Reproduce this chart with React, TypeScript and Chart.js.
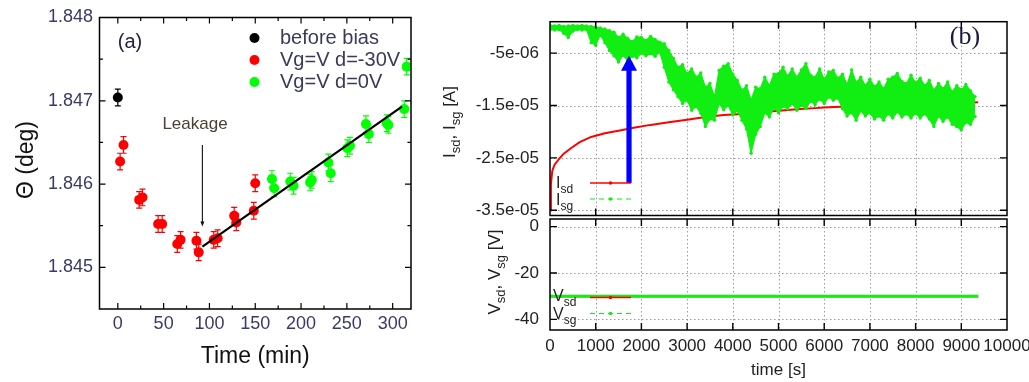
import React, { useEffect, useRef } from 'react';
import { Chart, registerables } from 'chart.js';
Chart.register(...registerables);

const W = 1029;
const H = 382;
const FONT = '"Liberation Sans", Arial, sans-serif';

// ---------------- Panel (a) data ----------------
const beforeTime = [0];
const beforeTheta = [1.84704];
const beforeErr = [0.0001];

const biasTime = [2.5, 6.2, 23.3, 26.9, 44, 48.4, 64.9, 68.5, 85.8, 88.3, 104.7, 109, 127, 129.3, 148.4, 150];
const biasTheta = [1.84627, 1.84647, 1.84581, 1.84584, 1.84552, 1.84552, 1.84528, 1.84533, 1.84532, 1.84518, 1.84533, 1.84535, 1.84562, 1.84554, 1.84568, 1.84601];
const biasErr = [0.0001, 0.0001, 0.0001, 0.0001, 0.0001, 0.0001, 0.0001, 0.0001, 0.0001, 0.0001, 0.0001, 0.0001, 0.0001, 0.0001, 0.0001, 0.0001];

const zeroTime = [168.2, 170.7, 188.2, 191.8, 209.9, 211.7, 229.8, 232.4, 250.5, 253.4, 270.8, 274, 293.5, 295.3, 312.6, 315.3];
const zeroTheta = [1.84606, 1.84595, 1.84603, 1.84598, 1.84602, 1.84605, 1.84626, 1.84613, 1.84643, 1.84646, 1.84672, 1.8466, 1.84673, 1.84671, 1.8469, 1.84741];
const zeroErr = [0.0001, 0.0001, 0.0001, 0.0001, 0.0001, 0.0001, 0.0001, 0.0001, 0.0001, 0.0001, 0.0001, 0.0001, 0.0001, 0.0001, 0.0001, 0.0001];

const fitTime = [92.3, 310.1];
const fitTheta = [1.84525, 1.84693];

const leakTime = 92.3;
const leakFrom = 1.84647;
const leakTo = 1.84549;

const aXTicks = [0, 50, 100, 150, 200, 250, 300];
const aXMinor = [25, 75, 125, 175, 225, 275];
const aYTicks = [1.845, 1.846, 1.847, 1.848];
const aYMinor = [1.8455, 1.8465, 1.8475];
const aLegend = ['before bias', 'Vg=V d=-30V', 'Vg=V d=0V'];
const aColors = ['#000000', '#ff0000', '#00ff00'];

// ---------------- Panel (b) data (current in units of 1e-6 A) ----------------
const isdTime = [0, 20, 50, 100, 200, 300, 450, 650, 900, 1200, 1500, 1800, 2200, 2600, 3000, 3400, 3800, 4200, 4600, 5000, 5400, 5800, 6200, 6600, 7000, 7400, 7800, 8200, 8600, 9000, 9370];
const isdCurrent = [-35, -30, -27.5, -26.3, -25.2, -24.2, -23.2, -22.0, -21.0, -20.3, -19.8, -19.3, -18.7, -18.2, -17.7, -17.2, -16.8, -16.6, -16.3, -16.0, -15.7, -15.5, -15.3, -15.2, -15.1, -15.0, -14.8, -14.7, -14.6, -14.5, -14.4];

// noisy I_sg trace: upper and lower edge of the noise band, sampled every 100 s
const isgStep = 100;
const isgUpper = [
  0.3, 0.2, 0.3, 0.1, 0.2, 0.3, 0.2, 0.3, 0.2, 0.1,
  0.0, -0.2, -0.4, -0.7, -1.0, -2.0, -1.4, -2.2, -2.8, -1.9,
  -2.0, -2.6, -1.8, -2.4, -2.9, -3.2, -4.5, -6.0, -7.7, -7.2,
  -8.9, -8.0, -9.6, -8.8, -11.5, -10.8, -13.3, -8.3, -7.5, -7.0,
  -9.0, -10.2, -12.1, -11.2, -14.0, -11.5, -11.8, -9.6, -11.2, -9.0,
  -8.9, -7.7, -9.4, -8.0, -9.6, -8.2, -7.0, -9.2, -9.6, -8.0,
  -10.0, -8.6, -8.3, -9.8, -9.0, -11.0, -8.2, -10.6, -9.6, -11.2,
  -10.0, -11.4, -10.5, -11.8, -10.0, -9.6, -8.9, -10.4, -10.8, -9.2,
  -10.6, -9.8, -11.2, -10.2, -12.1, -10.8, -11.8, -10.5, -12.4, -11.2,
  -12.0, -11.0, -12.2, -13.3,
];
const isgLower = [
  -0.5, -0.6, -0.5, -1.2, -2.0, -0.8, -0.5, -0.6, -0.5, -3.0,
  -3.5, -1.5, -3.0, -4.5, -5.5, -6.7, -5.4, -6.5, -5.6, -5.9,
  -5.0, -5.5, -5.1, -5.6, -4.8, -7.7, -10.5, -12.0, -13.3, -14.6,
  -14.0, -15.9, -15.2, -16.5, -19.0, -17.6, -17.8, -14.6, -15.8, -15.0,
  -16.8, -16.0, -17.8, -19.5, -24.1, -20.5, -19.0, -16.4, -17.2, -15.5,
  -16.4, -15.2, -15.6, -14.6, -15.9, -15.0, -15.6, -14.2, -14.8, -13.8,
  -14.6, -13.4, -14.0, -13.6, -15.6, -17.0, -16.4, -17.8, -16.0, -17.0,
  -16.4, -17.6, -17.0, -17.8, -16.6, -17.4, -16.2, -17.2, -16.6, -17.4,
  -16.5, -17.4, -16.6, -17.6, -19.0, -17.0, -18.0, -17.2, -18.6, -19.0,
  -19.7, -18.2, -18.6, -17.1,
];

const arrowTime = 1729;
const arrowFrom = -29.8;
const arrowTo = -5.5;

const vTime = [0, 9370];
const vsd = [-30, -30];
const vsg = [-30, -30];

const bXTicks = [0, 1000, 2000, 3000, 4000, 5000, 6000, 7000, 8000, 9000, 10000];
const bXLabels = ['0', '1000', '2000', '3000', '4000', '5000', '6000', '7000', '8000', '9000', '10000'];
const bYTicks = [-5, -15, -25, -35];
const bYLabels = ['-5e-06', '-1.5e-05', '-2.5e-05', '-3.5e-05'];
const cYTicks = [0, -20, -40];
const cYLabels = ['0', '-20', '-40'];

// ---------------- helpers ----------------
const pts = (xs: number[], ys: number[]) => xs.map((x, i) => ({ x, y: ys[i] }));

function baseOptions(area: any, x: any, y: any) {
  return {
    responsive: false,
    maintainAspectRatio: false,
    animation: false,
    devicePixelRatio: 1,
    events: [],
    layout: { padding: { left: area.l, top: area.t, right: W - area.r, bottom: H - area.b } },
    plugins: { legend: { display: false }, tooltip: { enabled: false } },
    scales: {
      x: { type: 'linear', min: x[0], max: x[1], display: false },
      y: { type: 'linear', min: y[0], max: y[1], display: false },
    },
  };
}

function frame(ctx: any, ca: any, lw: number) {
  ctx.save();
  ctx.strokeStyle = '#000';
  ctx.lineWidth = lw;
  ctx.setLineDash([]);
  ctx.strokeRect(ca.left, ca.top, ca.right - ca.left, ca.bottom - ca.top);
  ctx.restore();
}

function inTicks(chart: any, xs: number[], ys: number[], len: number, lw: number) {
  const ctx = chart.ctx;
  const ca = chart.chartArea;
  const sx = chart.scales.x;
  const sy = chart.scales.y;
  ctx.save();
  ctx.strokeStyle = '#000';
  ctx.lineWidth = lw;
  ctx.setLineDash([]);
  ctx.beginPath();
  xs.forEach((v) => {
    const p = sx.getPixelForValue(v);
    ctx.moveTo(p, ca.bottom);
    ctx.lineTo(p, ca.bottom - len);
    ctx.moveTo(p, ca.top);
    ctx.lineTo(p, ca.top + len);
  });
  ys.forEach((v) => {
    const p = sy.getPixelForValue(v);
    ctx.moveTo(ca.left, p);
    ctx.lineTo(ca.left + len, p);
    ctx.moveTo(ca.right, p);
    ctx.lineTo(ca.right - len, p);
  });
  ctx.stroke();
  ctx.restore();
}

function dottedGrid(chart: any, xs: number[], ys: number[]) {
  const ctx = chart.ctx;
  const ca = chart.chartArea;
  const sx = chart.scales.x;
  const sy = chart.scales.y;
  ctx.save();
  ctx.strokeStyle = '#9a9a9a';
  ctx.lineWidth = 1;
  ctx.setLineDash([1.5, 2.5]);
  ctx.beginPath();
  xs.forEach((v) => {
    const p = Math.round(sx.getPixelForValue(v)) + 0.5;
    ctx.moveTo(p, ca.top);
    ctx.lineTo(p, ca.bottom);
  });
  ys.forEach((v) => {
    const p = Math.round(sy.getPixelForValue(v)) + 0.5;
    ctx.moveTo(ca.left, p);
    ctx.lineTo(ca.right, p);
  });
  ctx.stroke();
  ctx.restore();
}

function text(ctx: any, s: string, x: number, y: number, size: number, color: string, align = 'center', family = FONT, weight = 'normal') {
  ctx.save();
  ctx.font = `${weight} ${size}px ${family}`;
  ctx.fillStyle = color;
  ctx.textAlign = align;
  ctx.textBaseline = 'middle';
  ctx.fillText(s, x, y);
  ctx.restore();
}

// segments: [string, isSubscript]; y is the baseline
function subText(ctx: any, segs: [string, boolean][], x: number, y: number, size: number, color: string, align: string) {
  const big = `${size}px ${FONT}`;
  const small = `${Math.round(size * 0.75)}px ${FONT}`;
  let w = 0;
  segs.forEach(([t, s]) => {
    ctx.font = s ? small : big;
    w += ctx.measureText(t).width;
  });
  let cx = align === 'left' ? x : align === 'center' ? x - w / 2 : x - w;
  ctx.save();
  ctx.fillStyle = color;
  ctx.textAlign = 'left';
  ctx.textBaseline = 'alphabetic';
  segs.forEach(([t, s]) => {
    ctx.font = s ? small : big;
    ctx.fillText(t, cx, s ? y + size * 0.32 : y);
    cx += ctx.measureText(t).width;
  });
  ctx.restore();
}

function errorBars(chart: any, xs: number[], ys: number[], es: number[], color: string) {
  const ctx = chart.ctx;
  const sx = chart.scales.x;
  const sy = chart.scales.y;
  ctx.save();
  ctx.strokeStyle = color;
  ctx.lineWidth = 1.2;
  ctx.beginPath();
  xs.forEach((x, i) => {
    const px = sx.getPixelForValue(x);
    const top = sy.getPixelForValue(ys[i] + es[i]);
    const bot = sy.getPixelForValue(ys[i] - es[i]);
    ctx.moveTo(px, top);
    ctx.lineTo(px, bot);
    ctx.moveTo(px - 3, top);
    ctx.lineTo(px + 3, top);
    ctx.moveTo(px - 3, bot);
    ctx.lineTo(px + 3, bot);
  });
  ctx.stroke();
  ctx.restore();
}

function legendSample(ctx: any, x0: number, x1: number, y: number, color: string, dashed: boolean, lw: number) {
  ctx.save();
  ctx.strokeStyle = color;
  ctx.lineWidth = lw;
  ctx.setLineDash(dashed ? [5, 4] : []);
  ctx.beginPath();
  ctx.moveTo(x0, y);
  ctx.lineTo(x1, y);
  ctx.stroke();
  ctx.fillStyle = color;
  ctx.beginPath();
  ctx.arc((x0 + x1) / 2, y, 1.8, 0, Math.PI * 2);
  ctx.fill();
  ctx.restore();
}

// ---------------- Panel (a) ----------------
function makeA(canvas: any) {
  const pointStyle = (color: string) => ({ backgroundColor: color, borderWidth: 0, pointRadius: 5, pointHoverRadius: 5 });
  return new Chart(canvas, {
    type: 'scatter',
    data: {
      datasets: [
        { data: pts(fitTime, fitTheta), showLine: true, borderColor: '#000', borderWidth: 2.2, pointRadius: 0, order: 0 },
        { data: pts(beforeTime, beforeTheta), ...pointStyle(aColors[0]), order: 1 },
        { data: pts(biasTime, biasTheta), ...pointStyle(aColors[1]), order: 2 },
        { data: pts(zeroTime, zeroTheta), ...pointStyle(aColors[2]), order: 3 },
      ],
    } as any,
    options: baseOptions({ l: 99.5, t: 17.5, r: 411, b: 309 }, [-20, 320], [1.8445, 1.848]) as any,
    plugins: [
      {
        id: 'decorA',
        beforeDatasetsDraw(chart: any) {
          errorBars(chart, beforeTime, beforeTheta, beforeErr, aColors[0]);
          errorBars(chart, biasTime, biasTheta, biasErr, aColors[1]);
          errorBars(chart, zeroTime, zeroTheta, zeroErr, aColors[2]);
        },
        afterDraw(chart: any) {
          const ctx = chart.ctx;
          const ca = chart.chartArea;
          const sx = chart.scales.x;
          const sy = chart.scales.y;
          frame(ctx, ca, 1.5);
          inTicks(chart, aXTicks, aYTicks, 6, 1.2);
          inTicks(chart, aXMinor, aYMinor, 3.5, 1.2);
          const tickColor = '#3a3a66';
          aYTicks.forEach((v) => text(ctx, v.toFixed(3), 93, sy.getPixelForValue(v), 18, tickColor, 'right'));
          aXTicks.forEach((v) => text(ctx, String(v), sx.getPixelForValue(v), 324, 18, tickColor, 'center'));
          text(ctx, 'Time (min)', (ca.left + ca.right) / 2, 357, 23, '#111', 'center');
          ctx.save();
          ctx.translate(27, 160);
          ctx.rotate(-Math.PI / 2);
          text(ctx, 'Θ (deg)', 0, 0, 23, '#111', 'center');
          ctx.restore();
          text(ctx, '(a)', 130, 42, 20, '#222244', 'center');
          // legend
          aLegend.forEach((lab, i) => {
            const y = 38 + i * 22;
            ctx.save();
            ctx.fillStyle = aColors[i];
            ctx.beginPath();
            ctx.arc(254.5, y, 5, 0, Math.PI * 2);
            ctx.fill();
            ctx.restore();
            text(ctx, lab, 280, y, 20, '#3a3a5a', 'left');
          });
          // leakage annotation
          text(ctx, 'Leakage', 195, 124, 17, '#4a4232', 'center');
          const ax = sx.getPixelForValue(leakTime);
          const ay0 = sy.getPixelForValue(leakFrom);
          const ay1 = sy.getPixelForValue(leakTo);
          ctx.save();
          ctx.strokeStyle = '#111';
          ctx.lineWidth = 1.1;
          ctx.beginPath();
          ctx.moveTo(ax, ay0);
          ctx.lineTo(ax, ay1 - 3);
          ctx.stroke();
          ctx.fillStyle = '#111';
          ctx.beginPath();
          ctx.moveTo(ax, ay1);
          ctx.lineTo(ax - 2, ay1 - 5);
          ctx.lineTo(ax + 2, ay1 - 5);
          ctx.closePath();
          ctx.fill();
          ctx.restore();
        },
      },
    ],
  });
}

// ---------------- Panel (b) top: currents ----------------
function makeB(canvas: any) {
  const green = '#11ee11';
  const upper = isgUpper.map((v, i) => ({ x: i * isgStep, y: v }));
  const lower = isgLower.map((v, i) => ({ x: i * isgStep, y: v }));
  return new Chart(canvas, {
    type: 'scatter',
    data: {
      datasets: [
        { data: upper, showLine: true, borderColor: green, borderWidth: 1.2, pointRadius: 1.7, backgroundColor: green, pointBackgroundColor: green, pointBorderWidth: 0, fill: '+1', order: 0 },
        { data: lower, showLine: true, borderColor: green, borderWidth: 1.2, pointRadius: 1.7, backgroundColor: green, pointBackgroundColor: green, pointBorderWidth: 0, fill: false, order: 0 },
        { data: pts(isdTime, isdCurrent), showLine: true, borderColor: '#ff0000', borderWidth: 2, pointRadius: 0, order: 1 },
      ],
    } as any,
    options: baseOptions({ l: 550, t: 21.7, r: 1007, b: 215.5 }, [0, 10000], [-36, 1]) as any,
    plugins: [
      {
        id: 'decorB',
        beforeDatasetsDraw(chart: any) {
          dottedGrid(chart, bXTicks.slice(1, -1), bYTicks);
        },
        afterDatasetsDraw(chart: any) {
          const ctx = chart.ctx;
          const sx = chart.scales.x;
          const sy = chart.scales.y;
          const ax = sx.getPixelForValue(arrowTime);
          const y0 = sy.getPixelForValue(arrowFrom);
          const y1 = sy.getPixelForValue(arrowTo);
          ctx.save();
          ctx.fillStyle = '#0000ff';
          ctx.fillRect(ax - 2.6, y1 + 14, 5.2, y0 - y1 - 14);
          ctx.beginPath();
          ctx.moveTo(ax, y1);
          ctx.lineTo(ax - 8, y1 + 15);
          ctx.lineTo(ax + 8, y1 + 15);
          ctx.closePath();
          ctx.fill();
          ctx.restore();
        },
        afterDraw(chart: any) {
          const ctx = chart.ctx;
          const ca = chart.chartArea;
          const sy = chart.scales.y;
          frame(ctx, ca, 1.5);
          inTicks(chart, bXTicks.slice(1, -1), bYTicks, 7, 1.4);
          bYTicks.forEach((v, i) => text(ctx, bYLabels[i], 539, sy.getPixelForValue(v), 17, '#222', 'right'));
          ctx.save();
          ctx.translate(455, 122);
          ctx.rotate(-Math.PI / 2);
          subText(ctx, [['I', false], ['sd', true], [', I', false], ['sg', true], [' [A]', false]], 0, 0, 17, '#222', 'center');
          ctx.restore();
          // legend
          subText(ctx, [['I', false], ['sd', true]], 556, 188, 16, '#222', 'left');
          legendSample(ctx, 590, 631, 183, '#ff0000', false, 1.3);
          subText(ctx, [['I', false], ['sg', true]], 556, 205, 16, '#222', 'left');
          legendSample(ctx, 590, 631, 199, green, true, 1.2);
          text(ctx, '(b)', 965, 37, 26, '#1a1a40', 'center', '"Liberation Serif", "DejaVu Serif", serif');
        },
      },
    ],
  });
}

// ---------------- Panel (b) bottom: voltages ----------------
function makeC(canvas: any) {
  return new Chart(canvas, {
    type: 'scatter',
    data: {
      datasets: [
        { data: pts(vTime, vsg), showLine: true, borderColor: '#11ee11', borderWidth: 3, pointRadius: 0, order: 0 },
        { data: pts(vTime, vsd), showLine: true, borderColor: '#ff0000', borderWidth: 2, pointRadius: 0, order: 1 },
      ],
    } as any,
    options: baseOptions({ l: 550, t: 219, r: 1007, b: 330 }, [0, 10000], [-44.6, 3.3]) as any,
    plugins: [
      {
        id: 'decorC',
        beforeDatasetsDraw(chart: any) {
          dottedGrid(chart, bXTicks.slice(1, -1), cYTicks);
        },
        afterDraw(chart: any) {
          const ctx = chart.ctx;
          const ca = chart.chartArea;
          const sx = chart.scales.x;
          const sy = chart.scales.y;
          frame(ctx, ca, 1.5);
          inTicks(chart, bXTicks.slice(1, -1), cYTicks, 7, 1.4);
          cYTicks.forEach((v, i) => text(ctx, cYLabels[i], 539, sy.getPixelForValue(v), 17, '#222', 'right'));
          bXTicks.forEach((v, i) => text(ctx, bXLabels[i], sx.getPixelForValue(v), 346, 17, '#222', 'center'));
          text(ctx, 'time [s]', (ca.left + ca.right) / 2, 370, 17, '#222', 'center');
          ctx.save();
          ctx.translate(500, 272);
          ctx.rotate(-Math.PI / 2);
          subText(ctx, [['V', false], ['sd', true], [', V', false], ['sg', true], [' [V]', false]], 0, 0, 17, '#222', 'center');
          ctx.restore();
          // legend
          subText(ctx, [['V', false], ['sd', true]], 553, 301, 16, '#222', 'left');
          legendSample(ctx, 590, 631, 297.5, '#ff0000', false, 1.3);
          subText(ctx, [['V', false], ['sg', true]], 553, 319, 16, '#222', 'left');
          legendSample(ctx, 590, 631, 313.5, '#11ee11', true, 1.2);
        },
      },
    ],
  });
}

export default function App() {
  const aRef = useRef<HTMLCanvasElement>(null);
  const bRef = useRef<HTMLCanvasElement>(null);
  const cRef = useRef<HTMLCanvasElement>(null);
  useEffect(() => {
    const charts = [makeA(aRef.current), makeB(bRef.current), makeC(cRef.current)];
    return () => charts.forEach((c) => c.destroy());
  }, []);
  const cs: any = { position: 'absolute', left: 0, top: 0, width: W, height: H };
  return (
    <div style={{ position: 'fixed', left: 0, top: 0, width: W, height: H, background: '#fff', overflow: 'hidden' }}>
      <canvas ref={aRef} width={W} height={H} style={cs} />
      <canvas ref={bRef} width={W} height={H} style={cs} />
      <canvas ref={cRef} width={W} height={H} style={cs} />
    </div>
  );
}
